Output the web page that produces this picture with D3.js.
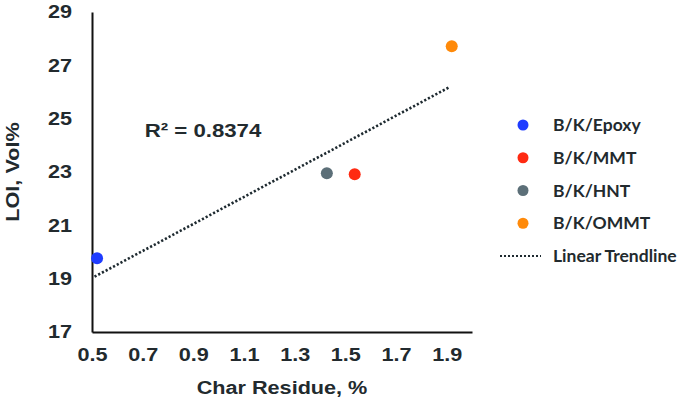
<!DOCTYPE html>
<html>
<head>
<meta charset="utf-8">
<script src="https://cdn.jsdelivr.net/npm/d3@7"></script>
<style>
  body { margin: 0; background: #fff; }
  text { font-family: "Liberation Sans", Arial, sans-serif; font-weight: bold; fill: #222a2e; }
  .legend text { font-family: Lato, "Open Sans", sans-serif; }
</style>
</head>
<body>
<div id="chart"></div>
<script>
var svgWidth = 690;
var svgHeight = 403;
var stretch = 1.17; // the original text is a bit wider than plain Arial

// data
var names = ["B/K/Epoxy", "B/K/MMT", "B/K/HNT", "B/K/OMMT"];
var charResidue = [0.52, 1.537, 1.427, 1.92];
var loi = [19.77, 22.92, 22.95, 27.72];
var colors = ["#1f3cff", "#ff2a12", "#5c6f78", "#ff8a0a"];
var xTicks = [0.5, 0.7, 0.9, 1.1, 1.3, 1.5, 1.7, 1.9];
var yTicks = [17, 19, 21, 23, 25, 27, 29];
var trendRange = [0.51, 1.908];
var r2Label = "R² = 0.8374";

var svg = d3.select("#chart")
  .append("svg")
  .attr("width", svgWidth)
  .attr("height", svgHeight);

var xScale = d3.scaleLinear().domain([0.5, 2.0]).range([92, 472]);
var yScale = d3.scaleLinear().domain([17, 29]).range([332, 12]);

// axes (no tick marks)
var bottomAxis = d3.axisBottom(xScale).tickValues(xTicks).tickSize(0).tickPadding(16)
  .tickFormat(d3.format(".1f"));
var leftAxis = d3.axisLeft(yScale).tickValues(yTicks).tickSize(0).tickPadding(20);

function styleAxis(g) {
  g.select(".domain").attr("stroke", "#111").attr("stroke-width", 2);
  g.selectAll("text")
    .style("font-size", "18.5px")
    .style("font-family", "Liberation Sans, Arial, sans-serif")
    .attr("fill", "#222a2e")
    .attr("x", function() { return (+d3.select(this).attr("x") || 0) / stretch; })
    .attr("transform", `scale(${stretch},1)`);
}

svg.append("g")
  .attr("transform", `translate(0, ${yScale(17)})`)
  .call(bottomAxis)
  .call(styleAxis);

svg.append("g")
  .attr("transform", `translate(${xScale(0.5)}, 0)`)
  .call(leftAxis)
  .call(styleAxis);

// linear trendline (least squares through the points)
var mx = d3.mean(charResidue), my = d3.mean(loi);
var sxy = d3.sum(charResidue, (x, i) => (x - mx) * (loi[i] - my));
var sxx = d3.sum(charResidue, x => (x - mx) * (x - mx));
var slope = sxy / sxx, intercept = my - slope * mx;

svg.append("line")
  .attr("x1", xScale(trendRange[0]))
  .attr("y1", yScale(intercept + slope * trendRange[0]))
  .attr("x2", xScale(trendRange[1]))
  .attr("y2", yScale(intercept + slope * trendRange[1]))
  .attr("stroke", "#1e2a30")
  .attr("stroke-width", 2.6)
  .attr("stroke-dasharray", "2.2,2");

// points
svg.selectAll("circle.pt")
  .data(names)
  .enter()
  .append("circle")
  .attr("class", "pt")
  .attr("cx", (d, i) => xScale(charResidue[i]))
  .attr("cy", (d, i) => yScale(loi[i]))
  .attr("r", 6)
  .attr("fill", (d, i) => colors[i]);

// R squared label
svg.append("text")
  .attr("transform", `translate(203, 137) scale(${stretch},1)`)
  .attr("text-anchor", "middle")
  .style("font-size", "19px")
  .text(r2Label);

// axis titles
svg.append("text")
  .attr("transform", `translate(${(xScale.range()[0] + xScale.range()[1]) / 2}, 394) scale(${stretch},1)`)
  .attr("text-anchor", "middle")
  .style("font-size", "18.5px")
  .text("Char Residue, %");

svg.append("text")
  .attr("transform", `translate(19, ${(yScale.range()[0] + yScale.range()[1]) / 2}) rotate(-90) scale(${stretch},1)`)
  .attr("text-anchor", "middle")
  .style("font-size", "18.5px")
  .text("LOI, Vol%");

// legend
var legend = svg.append("g").attr("class", "legend");
var legendY = d3.scaleLinear().domain([0, 4]).range([125, 256]);

legend.selectAll("circle")
  .data(names)
  .enter()
  .append("circle")
  .attr("cx", 523)
  .attr("cy", (d, i) => legendY(i))
  .attr("r", 5.5)
  .attr("fill", (d, i) => colors[i]);

legend.selectAll("text")
  .data(names.concat(["Linear Trendline"]))
  .enter()
  .append("text")
  .attr("x", 553)
  .attr("y", (d, i) => legendY(i))
  .attr("dy", "0.35em")
  .style("font-size", "17.5px")
  .text(d => d);

legend.append("line")
  .attr("x1", 500).attr("x2", 541)
  .attr("y1", legendY(4)).attr("y2", legendY(4))
  .attr("stroke", "#1e2a30")
  .attr("stroke-width", 2)
  .attr("stroke-dasharray", "2,2");
</script>
</body>
</html>
